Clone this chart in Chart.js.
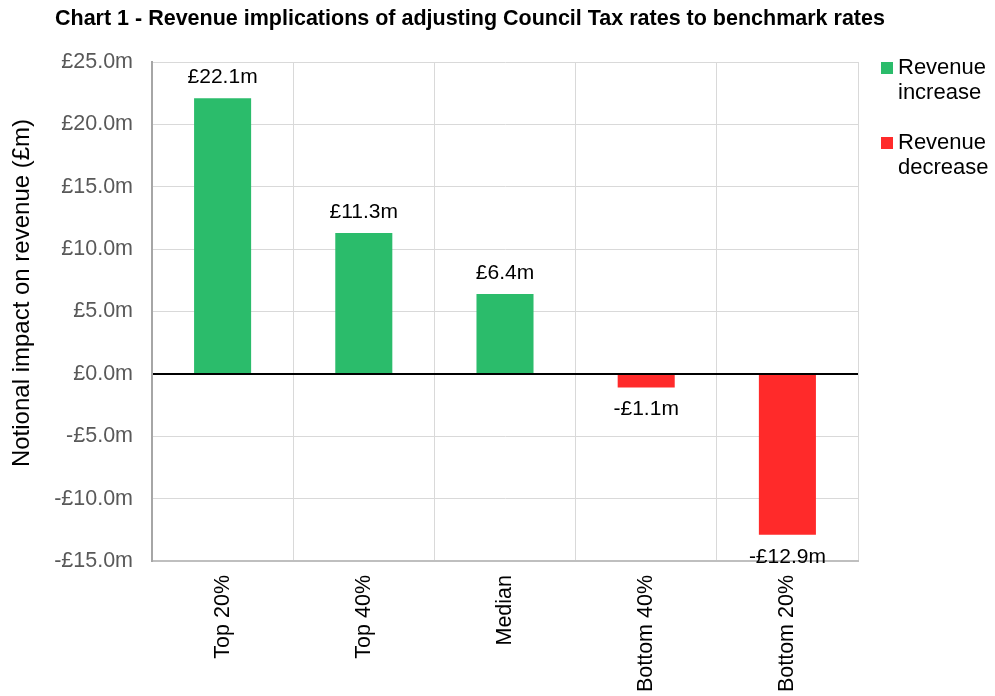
<!DOCTYPE html>
<html>
<head>
<meta charset="utf-8">
<script src="https://cdn.jsdelivr.net/npm/chart.js@4.4.1/dist/chart.umd.min.js"></script>
<style>
  html, body { margin: 0; padding: 0; background: #fff; }
  #wrap { position: relative; width: 995px; height: 696px; }
</style>
</head>
<body>
<div id="wrap"><canvas id="c" width="995" height="696"></canvas></div>
<script>
const categories = ['Top 20%', 'Top 40%', 'Median', 'Bottom 40%', 'Bottom 20%'];
const revenueIncrease = [22.1, 11.3, 6.4, null, null];
const revenueDecrease = [null, null, null, -1.1, -12.9];
const yTicks = [25, 20, 15, 10, 5, 0, -5, -10, -15];
const titleText = 'Chart 1 - Revenue implications of adjusting Council Tax rates to benchmark rates';
const yAxisTitle = 'Notional impact on revenue (£m)';
const seriesNames = ['Revenue increase', 'Revenue decrease'];

const GREEN = '#2BBC6B';
const RED = '#FF2A2A';
const FONT = '"Liberation Sans", Arial, sans-serif';

function money(v) {
  const s = '£' + Math.abs(v).toFixed(1) + 'm';
  return v < 0 ? '-' + s : s;
}

// value labels above / below each bar end
const valueLabels = {
  id: 'valueLabels',
  afterDatasetsDraw(chart) {
    const ctx = chart.ctx;
    ctx.save();
    ctx.font = '21px ' + FONT;
    ctx.fillStyle = '#000';
    ctx.textAlign = 'center';
    ctx.textBaseline = 'middle';
    chart.data.datasets.forEach((ds, i) => {
      const meta = chart.getDatasetMeta(i);
      meta.data.forEach((bar, j) => {
        const v = ds.data[j];
        if (v === null || v === undefined) return;
        const y = v >= 0 ? bar.y - 21 : bar.y + 22;
        ctx.fillText(money(v), bar.x, y);
      });
    });
    ctx.restore();
  }
};

// chart heading, vertical axis caption and the two-line legend at the right
const decorations = {
  id: 'decorations',
  afterDraw(chart) {
    const ctx = chart.ctx;
    ctx.save();
    ctx.font = 'bold 21.5px ' + FONT;
    ctx.fillStyle = '#000';
    ctx.textAlign = 'left';
    ctx.textBaseline = 'middle';
    ctx.fillText(titleText, 55, 19);

    ctx.save();
    ctx.translate(22, 293);
    ctx.rotate(-Math.PI / 2);
    ctx.textAlign = 'center';
    ctx.font = '24px ' + FONT;
    ctx.fillText(yAxisTitle, 0, 0);
    ctx.restore();

    const items = [
      { color: GREEN, lines: ['Revenue', 'increase'], y: 68 },
      { color: RED, lines: ['Revenue', 'decrease'], y: 143 }
    ];
    ctx.font = '22px ' + FONT;
    ctx.textAlign = 'left';
    items.forEach(it => {
      ctx.fillStyle = it.color;
      ctx.fillRect(881, it.y - 6, 12, 12);
      ctx.fillStyle = '#000';
      it.lines.forEach((ln, k) => ctx.fillText(ln, 898, it.y + k * 25));
    });
    ctx.restore();
  }
};

new Chart(document.getElementById('c'), {
  type: 'bar',
  data: {
    labels: categories,
    datasets: [
      { label: seriesNames[0], data: revenueIncrease, backgroundColor: GREEN, categoryPercentage: 1, barPercentage: 0.404 },
      { label: seriesNames[1], data: revenueDecrease, backgroundColor: RED, categoryPercentage: 1, barPercentage: 0.404 }
    ]
  },
  options: {
    responsive: false,
    animation: false,
    layout: { padding: { top: 62, right: 137, left: 0, bottom: 0 } },
    plugins: {
      legend: { display: false },
      tooltip: { enabled: false },
      title: { display: false }
    },
    scales: {
      x: {
        stacked: true,
        afterFit(s) { s.height = 135; },
        grid: { color: '#D9D9D9', lineWidth: 1, drawTicks: false, offset: true },
        border: { color: '#BFBFBF', width: 2 },
        ticks: {
          color: '#000',
          font: { family: FONT, size: 21.5 },
          minRotation: 90, maxRotation: 90,
          padding: 14,
          autoSkip: false
        }
      },
      y: {
        stacked: true,
        min: -15, max: 25,
        afterFit(s) { s.width = 152; },
        afterBuildTicks(s) { s.ticks = yTicks.map(v => ({ value: v })); },
        grid: {
          drawTicks: false,
          color: c => (c.tick && c.tick.value === 0) ? '#000' : '#D9D9D9',
          lineWidth: c => (c.tick && c.tick.value === 0) ? 2 : 1
        },
        border: { color: '#A6A6A6', width: 2 },
        ticks: {
          color: '#595959',
          font: { family: FONT, size: 21.5 },
          padding: 19,
          callback: v => money(v)
        }
      }
    }
  },
  plugins: [valueLabels, decorations]
});
</script>
</body>
</html>
